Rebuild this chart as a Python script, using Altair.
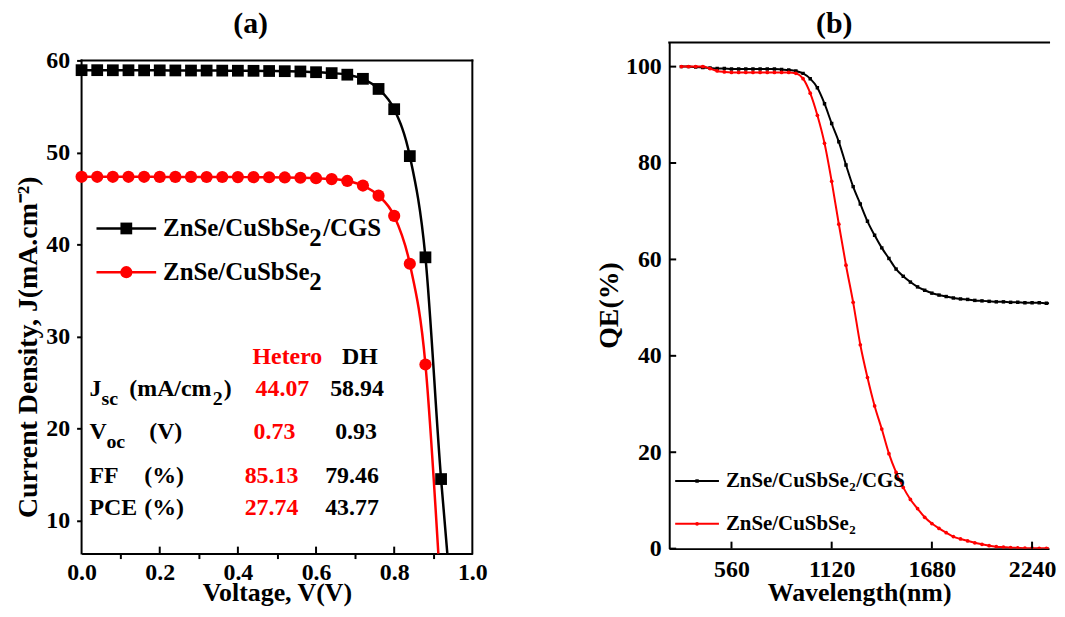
import altair as alt
import pandas as pd

FONT = "Liberation Serif"
RED = "#ff0000"
BLACK = "#000000"

# ---------------- (a) J-V data ----------------
V_DH = [0.00, 0.04, 0.08, 0.12, 0.16, 0.20, 0.24, 0.28, 0.32, 0.36, 0.40, 0.44,
        0.48, 0.52, 0.56, 0.60, 0.64, 0.68, 0.72, 0.76, 0.80, 0.84, 0.88, 0.92]
J_DH = [58.94, 58.94, 58.93, 58.93, 58.92, 58.92, 58.91, 58.90, 58.90, 58.89, 58.88, 58.87,
        58.85, 58.83, 58.80, 58.72, 58.62, 58.45, 58.00, 56.90, 54.70, 49.60, 38.60, 14.50]
V_DH_TAIL = [0.936]
J_DH_TAIL = [6.4]

V_HET = [0.00, 0.04, 0.08, 0.12, 0.16, 0.20, 0.24, 0.28, 0.32, 0.36, 0.40, 0.44,
         0.48, 0.52, 0.56, 0.60, 0.64, 0.68, 0.72, 0.76, 0.80, 0.84, 0.88]
J_HET = [47.35, 47.35, 47.35, 47.35, 47.35, 47.34, 47.34, 47.34, 47.33, 47.33, 47.32, 47.31,
         47.30, 47.28, 47.25, 47.20, 47.10, 46.90, 46.40, 45.30, 43.10, 37.90, 26.95]
V_HET_TAIL = [0.913]
J_HET_TAIL = [6.4]

A_X_TICKS = [0.0, 0.1, 0.2, 0.3, 0.4, 0.5, 0.6, 0.7, 0.8, 0.9, 1.0]
A_X_MAJOR_INNER = [0.2, 0.4, 0.6, 0.8]
A_Y_TICKS = [10, 20, 30, 40, 50, 60]

PANEL_TITLES = ["(a)", "(b)"]

LEG_A_MAIN = ["ZnSe/CuSbSe", "ZnSe/CuSbSe"]
LEG_A_TAIL = ["/CGS", ""]

TAB_HEADS = ["Hetero", "DH"]
TAB_MAIN = ["J", "V", "FF", "PCE"]
TAB_SUB = ["sc", "oc", "", ""]
TAB_UNIT = ["(mA/cm", "(V)", "(%)", "(%)"]
HETERO_VALS = ["44.07", "0.73", "85.13", "27.74"]
DH_VALS = ["58.94", "0.93", "79.46", "43.77"]

# ---------------- (b) QE data ----------------
WL = [280, 320, 360, 400, 440, 480, 520, 560, 600, 640, 680, 720, 760, 800, 840, 880,
      920, 960, 1000, 1040, 1080, 1120, 1160, 1200, 1240, 1280, 1320, 1360, 1400, 1440,
      1480, 1520, 1560, 1600, 1640, 1680, 1720, 1760, 1800, 1840, 1880, 1920, 1960, 2000,
      2040, 2080, 2120, 2160, 2200, 2240, 2280, 2320, 2360, 2400]
QE_DH = [100.0, 100.0, 99.9, 99.8, 99.7, 99.6, 99.6, 99.5, 99.5, 99.5, 99.5, 99.5, 99.5, 99.5,
         99.4, 99.3, 99.1, 98.6, 97.5, 95.6, 92.3, 88.2, 84.4, 79.6, 75.1, 71.5, 67.9, 65.0,
         62.4, 60.2, 58.0, 56.5, 55.3, 54.3, 53.6, 53.0, 52.6, 52.3, 52.0, 51.8, 51.7, 51.5,
         51.4, 51.3, 51.2, 51.2, 51.1, 51.1, 51.0, 51.0, 51.0, 50.9, 50.9, 50.9]
QE_HET = [100.0, 100.0, 100.0, 100.0, 99.6, 99.1, 98.9, 98.8, 98.8, 98.8, 98.8, 98.8, 98.8,
          98.8, 98.8, 98.8, 98.6, 97.5, 94.5, 89.9, 84.1, 76.2, 67.3, 58.8, 51.1, 42.3, 35.5,
          29.6, 24.8, 19.7, 15.8, 12.7, 10.2, 8.3, 6.5, 5.2, 4.2, 3.3, 2.5, 2.0, 1.6, 1.2, 0.9,
          0.6, 0.4, 0.3, 0.2, 0.15, 0.1, 0.1, 0.08, 0.06, 0.05, 0.05]
B_X_TICKS = [560, 1120, 1680, 2240]
B_Y_TICKS = [0, 20, 40, 60, 80, 100]
LEG_B_MAIN = ["ZnSe/CuSbSe", "ZnSe/CuSbSe"]
LEG_B_TAIL = ["/CGS", ""]

# ---------------- layout ----------------
WA = 393
A_TOP = 18            # panel (a) frame sits lower than panel (b)
HA = 496 + A_TOP
A_YMAX = 60 + A_TOP * (60 - 6.4) / 496
WB, HB = 382, 509
B_XMAX = 212 + WB * 560 / 100.77


def px_text(rows, align, dy=0, baseline="middle"):
    df = pd.DataFrame(rows, columns=["t", "px", "py", "c", "s"])
    df["py"] = df["py"] + dy
    return alt.Chart(df).mark_text(font=FONT, fontWeight="bold", align=align,
                                   baseline=baseline).encode(
        x=alt.X("px:Q", scale=None, axis=None),
        y=alt.Y("py:Q", scale=None, axis=None),
        text="t:N",
        color=alt.Color("c:N", scale=None),
        size=alt.Size("s:Q", scale=None),
    )


def legend_lines(rows, width, dy=0):
    df = pd.DataFrame(rows, columns=["px", "px2", "py", "c"])
    df["py"] = df["py"] + dy
    return alt.Chart(df).mark_rule(strokeWidth=width).encode(
        x=alt.X("px:Q", scale=None, axis=None), x2="px2:Q",
        y=alt.Y("py:Q", scale=None, axis=None),
        color=alt.Color("c:N", scale=None))


def legend_marks(rows, dy=0):
    df = pd.DataFrame(rows, columns=["px", "py", "c", "shape", "s"])
    df["py"] = df["py"] + dy
    return alt.Chart(df).mark_point(filled=True, opacity=1).encode(
        x=alt.X("px:Q", scale=None, axis=None),
        y=alt.Y("py:Q", scale=None, axis=None),
        color=alt.Color("c:N", scale=None),
        shape=alt.Shape("shape:N", scale=None),
        size=alt.Size("s:Q", scale=None))


# ---------- panel (a) ----------
xa = alt.X("x:Q", scale=alt.Scale(domain=[0, 1], nice=False, zero=False),
           axis=alt.Axis(values=A_X_TICKS, title="Voltage, V(V)", tickSize=5, labelPadding=2,
                         labelFlush=False, titleFontSize=26,
                         labelExpr="round(datum.value*10) % 2 == 0 ? format(datum.value, '.1f') : ''",
                         tickOpacity={"condition": {"test": "round(datum.value*10) % 2 == 0", "value": 0},
                                      "value": 1},
                         titleBaseline="middle", titleY=39))
ya = alt.Y("y:Q", scale=alt.Scale(domain=[6.4, A_YMAX], nice=False, zero=False),
           axis=alt.Axis(values=A_Y_TICKS, title="Current Density, J(mA.cm\u207b\u00b2)", tickSize=5,
                         labelPadding=7, domain=False, labelFlush=False,
                         titleX=-39, titleY=306))

dh_line = pd.DataFrame({"x": V_DH + V_DH_TAIL, "y": J_DH + J_DH_TAIL})
dh_pts = pd.DataFrame({"x": V_DH, "y": J_DH})
het_line = pd.DataFrame({"x": V_HET + V_HET_TAIL, "y": J_HET + J_HET_TAIL})
het_pts = pd.DataFrame({"x": V_HET, "y": J_HET})
a_inner = pd.DataFrame({"x": A_X_MAJOR_INNER})
frame_src = pd.DataFrame({"k": [0]})

a_layers = [
    # frame (top, left, right)
    alt.Chart(frame_src).mark_rule(color=BLACK, strokeWidth=2, strokeCap="square").encode(
        x=alt.value(0), x2=alt.value(WA), y=alt.value(A_TOP)),
    alt.Chart(frame_src).mark_rule(color=BLACK, strokeWidth=2, strokeCap="square").encode(
        x=alt.value(0), y=alt.value(A_TOP), y2=alt.value(HA)),
    alt.Chart(frame_src).mark_rule(color=BLACK, strokeWidth=2, strokeCap="square").encode(
        x=alt.value(WA), y=alt.value(A_TOP), y2=alt.value(HA)),
    alt.Chart(dh_line).mark_line(color=BLACK, strokeWidth=2.5, interpolate="monotone").encode(x=xa, y=ya),
    alt.Chart(het_line).mark_line(color=RED, strokeWidth=2.5, interpolate="monotone").encode(x=xa, y=ya),
    alt.Chart(dh_pts).mark_point(shape="square", filled=True, opacity=1, size=140, color=BLACK).encode(x=xa, y=ya),
    alt.Chart(het_pts).mark_point(shape="circle", filled=True, opacity=1, size=150, color=RED).encode(x=xa, y=ya),
    alt.Chart(a_inner).mark_rule(color=BLACK, strokeWidth=2).encode(
        x=xa, y=alt.value(HA - 7), y2=alt.value(HA)),
    legend_lines([(15, 75, 169, BLACK), (15, 75, 213, RED)], 2.5, A_TOP),
    legend_marks([(45, 169, BLACK, "square", 140), (45, 213, RED, "circle", 150)], A_TOP),
    px_text([(PANEL_TITLES[0], 170, -4, BLACK, 30)], "center", baseline="bottom"),
    px_text([
        (LEG_A_MAIN[0], 82, 169, BLACK, 25), ("2", 229, 179, BLACK, 25), (LEG_A_TAIL[0], 243, 169, BLACK, 25),
        (LEG_A_MAIN[1], 82, 213, BLACK, 25), ("2", 229, 223, BLACK, 25),
        (TAB_MAIN[0], 8, 331, BLACK, 24), (TAB_SUB[0], 20, 341, BLACK, 20), (TAB_UNIT[0], 48, 331, BLACK, 24),
        ("2", 132, 341, BLACK, 20), (")", 143, 331, BLACK, 24),
        (TAB_MAIN[1], 8, 374, BLACK, 24), (TAB_SUB[1], 25, 384, BLACK, 20), (TAB_UNIT[1], 68, 374, BLACK, 24),
        (TAB_MAIN[2], 8, 418, BLACK, 24), (TAB_UNIT[2], 63, 418, BLACK, 24),
        (TAB_MAIN[3], 8, 450, BLACK, 24), (TAB_UNIT[3], 63, 450, BLACK, 24),
    ], "left", A_TOP),
    px_text([
        (TAB_HEADS[0], 207, 298, RED, 24), (TAB_HEADS[1], 280, 298, BLACK, 24),
        (HETERO_VALS[0], 202, 331, RED, 24), (DH_VALS[0], 277, 331, BLACK, 24),
        (HETERO_VALS[1], 194, 374, RED, 24), (DH_VALS[1], 276, 374, BLACK, 24),
        (HETERO_VALS[2], 191, 418, RED, 24), (DH_VALS[2], 272, 418, BLACK, 24),
        (HETERO_VALS[3], 191, 450, RED, 24), (DH_VALS[3], 272, 450, BLACK, 24),
    ], "center", A_TOP),
]
panel_a = alt.layer(*a_layers).properties(
    width=WA, height=HA, view=alt.ViewBackground(stroke="transparent"))

# ---------- panel (b) ----------
xb = alt.X("x:Q", scale=alt.Scale(domain=[212, B_XMAX], nice=False, zero=False),
           axis=alt.Axis(values=B_X_TICKS, ticks=False, labelPadding=9, format="d", labelFlush=False,
                         title="Wavelength(nm)", titleFontSize=26, titleBaseline="middle", titleY=44))
yb = alt.Y("y:Q", scale=alt.Scale(domain=[0, 105], nice=False, zero=False),
           axis=alt.Axis(values=B_Y_TICKS, ticks=False, labelPadding=8, title="QE(%)", labelFlush=False,
                         titleX=-46, titleY=264))

qe_dh = pd.DataFrame({"x": WL, "y": QE_DH})
qe_het = pd.DataFrame({"x": WL, "y": QE_HET})
b_xt = pd.DataFrame({"x": B_X_TICKS})
b_yt = pd.DataFrame({"y": B_Y_TICKS})

b_layers = [
    alt.Chart(qe_dh).mark_line(color=BLACK, strokeWidth=2, interpolate="monotone", clip=True).encode(x=xb, y=yb),
    alt.Chart(qe_dh).mark_point(shape="square", filled=True, opacity=1, size=12, color=BLACK,
                                clip=True).encode(x=xb, y=yb),
    alt.Chart(qe_het).mark_line(color=RED, strokeWidth=2, interpolate="monotone", clip=True).encode(x=xb, y=yb),
    alt.Chart(qe_het).mark_point(shape="circle", filled=True, opacity=1, size=14, color=RED,
                                 clip=True).encode(x=xb, y=yb),
    alt.Chart(b_xt).mark_rule(color=BLACK, strokeWidth=2).encode(x=xb, y=alt.value(HB - 7), y2=alt.value(HB)),
    alt.Chart(b_yt).mark_rule(color=BLACK, strokeWidth=2).encode(y=yb, x=alt.value(0), x2=alt.value(7)),
    alt.Chart(frame_src).mark_rule(color=BLACK, strokeWidth=2).encode(
        x=alt.value(-1), x2=alt.value(WB + 1), y=alt.value(0)),
    legend_lines([(6, 50, 441, BLACK), (6, 50, 484, RED)], 2),
    legend_marks([(28, 441, BLACK, "square", 12), (28, 484, RED, "circle", 14)]),
    px_text([(PANEL_TITLES[1], 166, -4, BLACK, 30)], "center", baseline="bottom"),
    px_text([
        (LEG_B_MAIN[0], 57, 441, BLACK, 21), ("2", 181, 447, BLACK, 13), (LEG_B_TAIL[0], 188, 441, BLACK, 21),
        (LEG_B_MAIN[1], 57, 484, BLACK, 21), ("2", 181, 490, BLACK, 13),
    ], "left"),
]
panel_b = alt.layer(*b_layers).properties(
    width=WB, height=HB, view=alt.ViewBackground(stroke="transparent"))

chart = alt.hconcat(panel_a, panel_b, spacing=107).properties(
    padding={"left": 6, "top": -2, "right": 0, "bottom": 0}
).configure_view(stroke="transparent").configure_axis(
    grid=False, domainColor=BLACK, domainWidth=2, tickColor=BLACK, tickWidth=2,
    labelFont=FONT, labelFontSize=24, labelFontWeight="bold", labelColor=BLACK,
    titleFont=FONT, titleFontSize=28, titleFontWeight="bold", titleColor=BLACK,
)

chart.save("out.html", embed_options={"renderer": "svg", "actions": False})
